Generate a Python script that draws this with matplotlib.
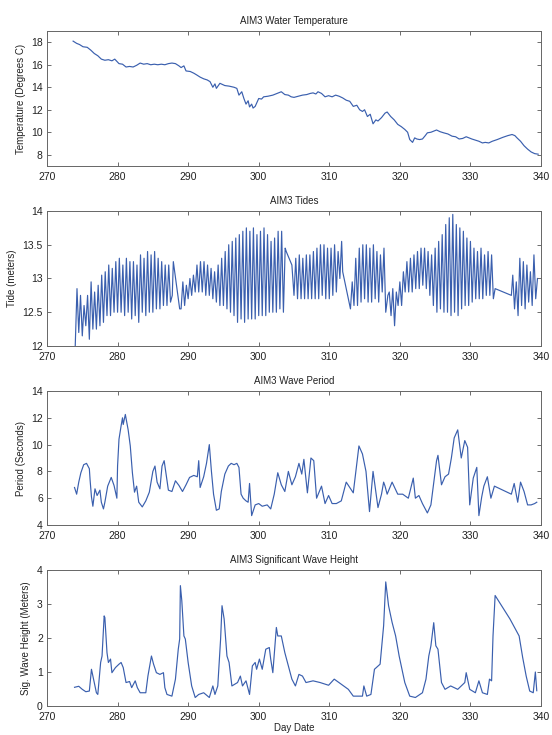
import numpy as np
import matplotlib.pyplot as plt

plt.rcParams['font.family'] = ['Liberation Sans', 'DejaVu Sans']

# ---------------- water temperature ----------------
temp_day = [273.7, 274.2, 274.6, 275.1, 275.7, 276.2, 276.7, 277.2, 277.7, 278.2,
            278.7, 279.2, 279.6, 280.2, 280.7, 281.2, 281.7, 282.2, 282.7, 283.2,
            283.7, 284.2, 284.7, 285.2, 285.7, 286.2, 286.7, 287.2, 287.7, 288.2,
            288.7, 289.0, 289.4, 289.7, 290.3, 290.8, 291.2, 291.7, 292.2, 292.7,
            293.1, 293.5, 293.8, 294.0, 294.5, 295.2, 295.8, 296.5, 296.9, 297.2,
            297.6, 297.9, 298.2, 298.5, 298.7, 299.0, 299.2, 299.5, 300.0, 300.4,
            300.7, 301.3, 302.0, 302.6, 303.2, 303.7, 304.2, 304.6, 305.0, 305.6,
            306.2, 306.8, 307.3, 307.7, 308.1, 308.4, 308.9, 309.4, 309.9, 310.4,
            310.9, 311.4, 311.9, 312.4, 312.9, 313.4, 313.9, 314.3, 314.7, 315.0,
            315.4, 315.8, 316.2, 316.6, 316.9, 317.4, 317.9, 318.2, 318.7, 319.2,
            319.7, 320.2, 320.7, 321.1, 321.4, 321.8, 322.1, 322.4, 322.8, 323.2,
            323.6, 323.9, 324.4, 324.8, 325.2, 325.7, 326.2, 326.8, 327.4, 327.9,
            328.4, 328.9, 329.4, 329.8, 330.2, 330.7, 331.2, 331.7, 332.1, 332.6,
            333.1, 333.8, 334.6, 335.3, 335.9, 336.3, 336.6, 337.1, 337.6, 338.1,
            338.6, 339.1, 339.6]
temp_val = [18.1, 17.9, 17.8, 17.6, 17.55, 17.3, 17.0, 16.8, 16.5, 16.4,
            16.45, 16.35, 16.5, 16.1, 16.05, 15.8, 15.85, 15.8, 15.95, 16.15,
            16.05, 16.1, 16.0, 16.05, 16.0, 16.05, 16.0, 16.1, 16.15, 16.1,
            15.9, 15.75, 15.9, 15.45, 15.4, 15.25, 15.1, 14.9, 14.75, 14.65,
            14.5, 14.0, 14.3, 13.9, 14.35, 14.15, 14.1, 14.0, 13.9, 13.3,
            13.6, 13.0, 12.5, 12.8, 12.25, 12.5, 12.15, 12.3, 13.0, 12.95,
            13.15, 13.2, 13.3, 13.45, 13.6, 13.35, 13.3, 13.15, 13.1, 13.2,
            13.3, 13.35, 13.45, 13.5, 13.4, 13.6, 13.45, 13.15, 13.25, 13.15,
            13.3, 13.2, 13.05, 12.85, 12.75, 12.3, 12.4, 12.0, 11.85, 12.0,
            11.4, 11.6, 10.75, 11.1, 11.0, 11.3, 11.7, 11.8, 11.4, 11.1,
            10.7, 10.5, 10.25, 10.0, 9.35, 9.1, 9.5, 9.4, 9.35, 9.4,
            9.7, 9.95, 10.0, 10.1, 10.2, 10.05, 9.95, 9.85, 9.65, 9.6,
            9.4, 9.45, 9.6, 9.5, 9.4, 9.3, 9.2, 9.05, 9.1, 9.05,
            9.2, 9.35, 9.55, 9.7, 9.8, 9.7, 9.5, 9.2, 8.8, 8.5,
            8.25, 8.1, 8.05]

# ---------------- tides ----------------
# oscillating stretches: (first day, extremes in order, one every quarter day)
tide_start = [274.0, 289.0, 305.0, 313.0, 318.5, 336.0]
tide_extremes = [
    [12.0, 12.85, 12.2, 12.75, 12.15, 12.6, 12.3, 12.75, 12.1, 12.95, 12.25, 12.8,
     12.25, 12.9, 12.3, 13.05, 12.35, 13.1, 12.45, 13.2, 12.45, 13.15, 12.5, 13.25,
     12.5, 13.3, 12.5, 13.2, 12.45, 13.3, 12.5, 13.25, 12.4, 13.25, 12.45, 13.2,
     12.35, 13.35, 12.5, 13.3, 12.45, 13.4, 12.5, 13.35, 12.5, 13.4, 12.55, 13.3,
     12.55, 13.25, 12.6, 13.2, 12.6, 13.2, 12.65, 12.75],
    [12.55, 12.95, 12.6, 12.9, 12.7, 13.0, 12.75, 13.05, 12.8, 13.2, 12.8, 13.25,
     12.8, 13.25, 12.75, 13.2, 12.75, 13.15, 12.7, 13.1, 12.65, 13.2, 12.6, 13.3,
     12.6, 13.4, 12.55, 13.5, 12.5, 13.55, 12.45, 13.6, 12.35, 13.65, 12.4, 13.7,
     12.35, 13.75, 12.4, 13.7, 12.4, 13.75, 12.4, 13.65, 12.45, 13.7, 12.45, 13.75,
     12.45, 13.65, 12.5, 13.55, 12.5, 13.6, 12.5, 13.7, 12.55, 13.7, 12.5, 13.45],
    [12.75, 13.3, 12.7, 13.35, 12.7, 13.3, 12.7, 13.35, 12.7, 13.35, 12.7, 13.4,
     12.7, 13.45, 12.7, 13.5, 12.75, 13.5, 12.7, 13.45, 12.7, 13.45, 12.75, 13.5,
     12.8, 13.4, 13.0, 13.55],
    [12.55, 12.95, 12.6, 13.3, 12.6, 13.45, 12.65, 13.5, 12.7, 13.5, 12.65, 13.45,
     12.65, 13.5, 12.7, 13.4, 12.65, 13.35, 12.8, 13.45],
    [12.8, 12.45, 12.85, 12.3, 12.8, 12.6, 12.95, 12.6, 13.1, 12.8, 13.25, 12.8,
     13.3, 12.8, 13.35, 12.85, 13.4, 12.85, 13.45, 12.9, 13.45, 12.85, 13.4, 12.75,
     13.35, 12.6, 13.45, 12.5, 13.55, 12.55, 13.65, 12.5, 13.8, 12.5, 13.9, 12.45,
     13.95, 12.5, 13.8, 12.45, 13.75, 12.55, 13.7, 12.6, 13.6, 12.6, 13.55, 12.65,
     13.45, 12.7, 13.4, 12.7, 13.45, 12.7, 13.35, 12.75, 13.4, 12.75, 13.35, 12.7],
    [13.05, 12.55, 12.95, 12.45, 13.3, 12.6, 13.25, 12.55, 13.2, 12.65, 13.1, 12.6,
     13.35, 12.7, 13.0],
]
# straight joins across the gaps between stretches
tide_gap_day = [[287.9, 288.8], [303.9, 304.7], [311.9, 312.9], [318.0, 318.3], [333.5, 335.8]]
tide_gap_val = [[13.25, 12.55], [13.4, 13.2], [13.1, 12.6], [12.5, 12.75], [12.85, 12.75]]
TIDE_STEP = 0.25

# ---------------- wave period ----------------
per_day = [273.9, 274.2, 274.5, 274.8, 275.2, 275.6, 276.0, 276.1, 276.3, 276.5,
           276.8, 277.1, 277.5, 277.7, 278.0, 278.2, 278.6, 279.1, 279.5, 279.9,
           280.0, 280.2, 280.5, 280.7, 280.8, 281.1, 281.5, 281.8, 282.1, 282.4,
           282.7, 283.0, 283.5, 284.0, 284.5, 285.0, 285.3, 285.6, 286.0, 286.3,
           286.6, 286.9, 287.2, 287.7, 288.2, 288.7, 289.2, 289.7, 290.2, 290.8,
           291.3, 291.5, 291.7, 292.2, 292.6, 293.0, 293.3, 293.6, 294.0, 294.4,
           294.7, 295.2, 295.7, 296.1, 296.5, 296.9, 297.2, 297.5, 297.8, 298.2,
           298.5, 298.7, 299.0, 299.5, 300.0, 300.5, 301.2, 301.7, 302.2, 302.7,
           303.2, 303.7, 304.2, 304.7, 305.2, 305.7, 306.1, 306.4, 306.9, 307.4,
           307.8, 308.2, 308.9, 309.4, 309.9, 310.4, 311.0, 311.7, 312.4, 313.4,
           313.9, 314.2, 314.7, 315.2, 315.7, 316.2, 316.9, 317.4, 317.7, 317.9,
           318.2, 318.9, 319.7, 320.4, 321.2, 321.9, 322.2, 322.7, 323.2, 323.9,
           324.4, 324.9, 325.2, 325.4, 325.9, 326.4, 326.9, 327.3, 327.7, 328.2,
           328.7, 329.2, 329.6, 329.9, 330.4, 330.9, 331.2, 331.6, 331.9, 332.4,
           332.9, 333.4, 335.8, 336.2, 336.7, 337.1, 337.6, 338.1, 338.6, 339.1,
           339.4]
per_val = [6.8, 6.3, 7.2, 7.9, 8.5, 8.6, 8.2, 7.4, 6.1, 5.4,
           6.7, 6.2, 6.6, 5.7, 5.2, 5.7, 6.9, 7.55, 6.95, 6.0,
           8.4, 10.4, 11.4, 12.0, 11.5, 12.25, 11.1, 9.9, 7.9, 6.45,
           6.9, 5.7, 5.35, 5.8, 6.45, 8.0, 8.4, 7.2, 6.7, 8.4,
           8.8, 7.7, 6.6, 6.5, 7.3, 6.95, 6.5, 7.0, 7.55, 7.7,
           7.6, 8.8, 6.8, 7.6, 8.6, 10.0, 8.0, 6.3, 5.1, 5.2,
           6.5, 7.8, 8.4, 8.6, 8.5, 8.6, 8.3, 6.3, 6.0, 5.8,
           5.7, 7.1, 4.7, 5.5, 5.6, 5.4, 5.5, 5.2, 6.3, 7.9,
           7.0, 6.5, 8.0, 7.0, 7.6, 8.6, 7.8, 8.9, 6.4, 9.0,
           8.8, 6.0, 6.9, 5.6, 6.2, 5.6, 5.6, 5.8, 7.2, 6.4,
           8.6, 9.9, 9.3, 8.0, 5.0, 8.0, 5.3, 6.3, 7.2, 6.9,
           6.3, 7.2, 6.3, 6.3, 6.0, 7.5, 6.0, 6.2, 5.6, 4.9,
           5.5, 7.6, 8.8, 9.2, 7.0, 7.6, 7.8, 9.0, 10.5, 11.1,
           9.0, 10.3, 9.8, 5.5, 7.5, 8.3, 4.7, 6.1, 6.9, 7.6,
           6.0, 6.9, 6.3, 7.1, 5.7, 7.2, 6.5, 5.5, 5.5, 5.6,
           5.7]

# ---------------- significant wave height ----------------
hs_day = [273.9, 274.5, 275.0, 275.5, 276.0, 276.3, 276.6, 277.0, 277.2, 277.6,
          277.8, 278.1, 278.2, 278.5, 278.7, 279.0, 279.2, 279.7, 280.2, 280.5,
          280.8, 281.2, 281.7, 282.0, 282.5, 282.8, 283.2, 284.0, 284.3, 284.8,
          285.1, 285.5, 286.0, 286.5, 286.7, 287.0, 287.7, 288.2, 288.6, 288.8,
          288.9, 289.1, 289.4, 289.6, 290.0, 290.5, 291.0, 291.5, 292.2, 293.0,
          293.5, 293.8, 294.2, 294.6, 294.8, 295.1, 295.5, 295.8, 296.2, 297.0,
          297.4, 297.7, 298.2, 298.7, 299.1, 299.5, 299.7, 300.1, 300.5, 301.0,
          301.5, 301.7, 302.0, 302.5, 302.7, 303.2, 303.7, 304.7, 305.2, 305.7,
          306.2, 306.7, 307.7, 308.7, 309.9, 310.7, 311.7, 312.7, 313.4, 314.7,
          314.9, 315.3, 315.9, 316.4, 317.2, 317.7, 318.0, 318.4, 318.9, 319.4,
          319.9, 320.7, 321.4, 322.2, 323.2, 323.7, 324.1, 324.4, 324.8, 325.1,
          325.4, 325.9, 326.4, 327.2, 328.2, 329.2, 329.4, 329.9, 330.7, 331.2,
          331.7, 332.4, 332.7, 333.0, 333.2, 333.5, 335.6, 336.9, 337.4, 337.9,
          338.4, 338.9, 339.2, 339.4]
hs_val = [0.55, 0.58, 0.49, 0.42, 0.44, 1.08, 0.79, 0.39, 0.34, 1.28,
          1.47, 2.65, 2.6, 1.57, 1.28, 1.38, 0.98, 1.13, 1.23, 1.28,
          1.13, 0.69, 0.72, 0.54, 0.74, 0.54, 0.39, 0.39, 0.88, 1.47,
          1.23, 0.98, 0.93, 0.98, 0.54, 0.34, 0.29, 0.79, 1.67, 1.97,
          3.54, 3.1, 2.06, 1.97, 1.28, 0.59, 0.25, 0.34, 0.39, 0.25,
          0.59, 0.34, 0.59, 1.97, 2.95, 2.56, 1.47, 1.28, 0.59, 0.69,
          0.88, 0.59, 0.74, 0.34, 1.18, 1.28, 1.08, 1.38, 1.08, 1.67,
          1.72, 1.38, 0.98, 2.31, 2.06, 2.06, 1.57, 0.79, 0.59, 0.93,
          0.88, 0.69, 0.74, 0.69, 0.61, 0.79, 0.64, 0.49, 0.29, 0.29,
          0.59, 0.29, 0.34, 1.08, 1.23, 2.36, 3.65, 2.95, 2.46, 2.06,
          1.47, 0.69, 0.29, 0.25, 0.39, 0.79, 1.47, 1.77, 2.45, 1.77,
          1.67, 0.69, 0.49, 0.59, 0.49, 0.69, 0.98, 0.49, 0.39, 0.74,
          0.39, 0.34, 0.79, 0.74, 2.06, 3.25, 2.56, 2.06, 1.43, 0.88,
          0.44, 0.39, 1.0, 0.45]

line_kw = dict(color='#3a5fae', lw=0.85)

fig = plt.figure(figsize=(5.52, 7.35), dpi=100)
left, width = 47 / 552, 494 / 552
rects = [(31, 166), (211, 346), (391, 525), (570, 706)]
axes = [fig.add_axes([left, 1 - b / 735, width, (b - t) / 735]) for t, b in rects]


def style(ax, title, ylabel, ylim, yticks, yticklabels=None):
    ax.set_xlim(270, 340)
    ax.set_xticks(range(270, 341, 10))
    ax.set_ylim(*ylim)
    ax.set_yticks(yticks)
    if yticklabels is not None:
        ax.set_yticklabels(yticklabels)
    ax.set_title(title, fontsize=7, pad=5, color='#222222')
    ax.set_ylabel(ylabel, fontsize=7, color='#222222')
    ax.tick_params(direction='in', top=True, right=True, labelsize=7.5,
                   length=3, width=0.6, colors='#555555', labelcolor='#222222', pad=3)
    ax.tick_params(axis='x', pad=4)
    for s in ax.spines.values():
        s.set_color('#666666')
        s.set_linewidth(0.7)


ax = axes[0]
ax.plot(temp_day, temp_val, **line_kw)
style(ax, 'AIM3 Water Temperature', 'Temperature (Degrees C)', (7, 19), [8, 10, 12, 14, 16, 18])

ax = axes[1]
tx, ty = [], []
for k, (start, ext) in enumerate(zip(tide_start, tide_extremes)):
    tx += [start + TIDE_STEP * i for i in range(len(ext))]
    ty += ext
    if k < len(tide_gap_day):
        tx += tide_gap_day[k]
        ty += tide_gap_val[k]
ax.plot(tx, ty, **line_kw)
style(ax, 'AIM3 Tides', 'Tide (meters)', (12, 14), [12, 12.5, 13, 13.5, 14],
      ['12', '12.5', '13', '13.5', '14'])

ax = axes[2]
ax.plot(per_day, per_val, **line_kw)
style(ax, 'AIM3 Wave Period', 'Period (Seconds)', (4, 14), [4, 6, 8, 10, 12, 14])

ax = axes[3]
ax.plot(hs_day, hs_val, **line_kw)
style(ax, 'AIM3 Significant Wave Height', 'Sig. Wave Height (Meters)', (0, 4), [0, 1, 2, 3, 4])
ax.set_xlabel('Day Date', fontsize=7, color='#222222', labelpad=1)

fig.savefig('out.png', dpi=100)
